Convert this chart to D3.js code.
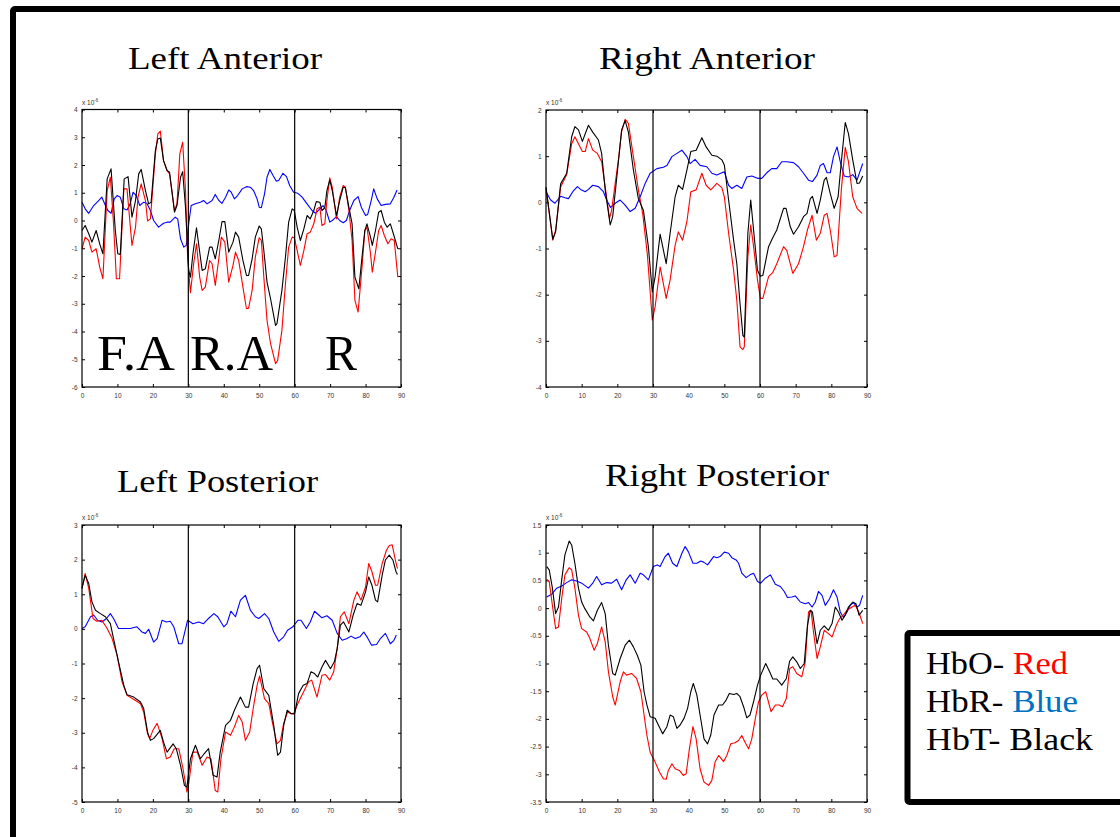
<!DOCTYPE html>
<html>
<head>
<meta charset="utf-8">
<script src="https://cdn.jsdelivr.net/npm/d3@7"></script>
<style>
  body { margin: 0; background: #fff; }
  svg { display: block; }
</style>
</head>
<body>
<svg id="chart" width="1120" height="837"></svg>
<script>
// time (s) vs concentration change (x 10^-6)

// Left Anterior
const laHbO = [[0,-1.02],[0.9,-0.6],[1.9,-0.72],[2.8,-1.14],[4,-1.02],[5,-1.68],[5.9,-2.1],[7.1,1.08],[8,1.56],[8.9,-0.12],[9.7,-2.1],[10.6,-2.1],[11.8,1.14],[12.7,1.14],[14.1,-0.9],[15.1,-0.24],[15.8,0.84],[16.7,1.32],[17.9,0.72],[18.5,-0.02],[19.3,0.06],[20.7,2.4],[21.4,3.12],[22.1,3.22],[23,2.16],[24,1.8],[24.7,1.68],[26.1,0.36],[26.8,0.6],[27.6,2.4],[28.4,2.82],[29.2,1.08],[29.8,-1.32],[30.6,-2.6],[31.5,-1.56],[32.3,-0.84],[33.2,-2.04],[33.9,-2.52],[34.8,-2.4],[36,-1.44],[36.7,-1.56],[37.6,-2.34],[38.6,-1.38],[39.3,-0.6],[40.3,-0.78],[41.4,-2.22],[42.6,-1.62],[43.3,-1.14],[44.2,-1.44],[45.4,-2.4],[46.4,-3.18],[47,-3.16],[48,-2.52],[48.9,-1.32],[50,-0.62],[50.6,-0.72],[51.3,-2.04],[52.2,-3.6],[53.2,-4.44],[54.6,-5.16],[55.2,-5.04],[56.4,-3.96],[57.4,-2.28],[58.3,-0.96],[59.3,-0.6],[59.9,-0.62],[60.7,-1.08],[61.6,-1.62],[62.6,-1.08],[63.5,-0.48],[64.4,-0.42],[65.4,-0.12],[66.3,0.42],[67.1,0.48],[67.7,-0.18],[68.5,-0.12],[69.1,0.72],[69.9,1.54],[70.6,1.2],[71.8,0.06],[72.7,0.84],[73.7,1.26],[74.3,1.2],[75.3,0.36],[76.2,-0.72],[77,-2.88],[77.9,-3.3],[79,-1.68],[79.8,-0.36],[80.4,-0.24],[81.4,-1.2],[81.9,-1.86],[82.8,-1.14],[83.7,-0.36],[84.4,-0.18],[85.3,-0.54],[86.3,-0.84],[87.2,-0.66],[88.1,-0.72],[89.1,-2.04]];
const laHbR = [[0,0.66],[0.9,0.42],[1.9,0.26],[3.3,0.54],[4.7,0.72],[5.6,0.84],[6.6,0.54],[7.3,0.36],[8.2,0.26],[9.1,0.78],[9.9,0.9],[10.8,0.84],[11.8,0.42],[12.7,0.38],[13.6,0.6],[14.4,1.02],[15.3,0.9],[16.3,0.54],[17.4,0.66],[18.3,0.62],[19.3,0.36],[20.2,0],[21.6,-0.24],[23,-0.1],[24,-0.06],[24.9,-0.06],[26.3,0.12],[27,0.06],[27.8,-0.66],[28.7,-0.96],[29.4,-0.9],[30.1,-0.12],[30.8,0.54],[32,0.6],[33.4,0.66],[34.3,0.72],[35.3,0.6],[36.7,0.72],[37.6,0.94],[38.6,0.72],[39.5,0.62],[40.5,0.84],[41.4,1.1],[42.1,1.02],[43,0.78],[43.9,0.9],[45.2,1.14],[46.4,1.22],[47.5,1.2],[48.4,1.08],[49.4,0.78],[50,0.48],[50.6,0.46],[51.5,0.96],[52.2,1.56],[53,1.84],[53.9,1.62],[54.8,1.42],[55.5,1.44],[56.7,1.7],[57.7,1.58],[58.6,1.26],[59.7,1.02],[60.9,0.98],[62.1,0.84],[63.5,0.6],[64.9,0.36],[65.9,0.26],[67.1,0.42],[68,0.54],[68.9,0.36],[69.9,-0.06],[70.8,0.02],[71.8,0.14],[72.7,0],[73.7,-0.08],[74.6,0],[75.5,0.36],[76.7,0.72],[77.9,0.86],[78.8,0.48],[80,0.18],[80.6,0.22],[81.6,0.72],[82.3,1.14],[83.3,0.78],[84.4,0.54],[85.6,0.58],[87,0.6],[88,0.84],[88.9,1.1]];
const laHbT = [[0,-0.36],[0.9,-0.18],[1.9,-0.48],[2.8,-0.78],[4,-0.36],[5,-0.84],[5.9,-1.2],[7.1,1.5],[8.2,1.86],[9.4,-0.36],[10.1,-1.2],[10.8,-1.22],[11.9,1.5],[13,1.58],[14.1,0.12],[15.1,0.72],[16,1.68],[16.7,1.84],[17.9,1.08],[18.8,0.6],[19.5,0.66],[20.7,2.52],[21.4,2.94],[22.1,2.97],[23,2.16],[24,1.8],[24.7,1.74],[26.1,0.3],[26.8,0.54],[27.8,1.56],[28.4,1.76],[29.2,0.48],[30.1,-1.8],[30.6,-2.04],[31.3,-1.2],[32.3,-0.26],[33.4,-1.32],[33.9,-1.8],[34.8,-1.74],[36,-0.96],[36.7,-0.96],[37.6,-1.38],[38.6,-0.72],[39.5,-0.04],[40.3,-0.04],[41.4,-1.14],[42.6,-0.78],[43.3,-0.42],[44.2,-0.6],[45.4,-1.44],[46.4,-1.98],[47,-1.98],[48,-1.38],[48.9,-0.6],[50,-0.2],[50.6,-0.3],[51.3,-1.08],[52.2,-2.22],[53.2,-2.82],[54.6,-3.78],[55,-3.72],[56.4,-2.52],[57.4,-1.32],[58.3,-0.06],[59.3,0.42],[59.9,0.36],[60.7,-0.24],[61.6,-0.72],[62.6,-0.3],[63.5,0.18],[64.4,0.06],[65.4,0.36],[66.1,0.68],[67.1,0.66],[67.7,0.36],[68.5,0.46],[69.1,1.08],[69.9,1.46],[70.6,1.08],[71.8,0.18],[72.7,0.72],[73.7,1.2],[74.3,1.18],[75.3,0.48],[76.2,-0.12],[77,-2.04],[78.1,-2.46],[79,-1.32],[79.8,-0.36],[80.4,-0.12],[81.4,-0.6],[81.9,-0.9],[82.8,-0.36],[83.7,0.3],[84.4,0.36],[85.3,-0.06],[86.1,-0.24],[87,-0.12],[88,-0.54],[89.1,-1.02]];

// Right Anterior
const raHbO = [[0,0.3],[1.9,-0.82],[2.7,-0.6],[4.1,0.33],[5.8,0.6],[7.2,1.27],[8.1,1.42],[9.1,1.27],[10.2,1.1],[11,1.1],[11.9,1.38],[13.1,1.13],[14.4,1.06],[15.6,0.88],[16.6,0.33],[17.8,-0.35],[18.4,-0.17],[20.3,0.92],[21.2,1.53],[22.2,1.8],[23.1,1.71],[24.5,0.99],[25.9,0.27],[27.1,-0.24],[28.4,-1.11],[29.8,-2.55],[30.6,-2.26],[32,-1.4],[33.7,-2.08],[34.8,-1.68],[36.2,-0.93],[37.1,-0.64],[38.3,-0.82],[39.5,-0.42],[40.6,0.23],[42.1,0.27],[43.7,0.63],[44.9,0.37],[46.2,0.27],[47.9,0.41],[49.3,0.32],[50,0.12],[51.2,-0.67],[52.6,-1.47],[53.5,-2.12],[54.4,-3.13],[55.2,-3.19],[55.6,-3.13],[56.6,-1.18],[57.4,-0.49],[58.2,-0.96],[59.3,-1.68],[60.1,-2.08],[60.8,-2.08],[62.4,-1.61],[63.5,-1.53],[64.7,-1.33],[66.6,-0.96],[67.5,-1.04],[69.2,-1.54],[70.8,-1.33],[72.2,-0.96],[73.3,-0.6],[74.6,-0.28],[75.8,-0.82],[76.9,-0.67],[78,-0.28],[78.8,-0.24],[79.7,-0.6],[80.8,-1.18],[81.6,-1.15],[82.8,0.27],[83.9,1.19],[84.8,0.88],[86,0.12],[87.2,-0.13],[88.6,-0.24]];
const raHbR = [[0,0.23],[1.3,0.05],[2.5,-0.02],[4.1,0.13],[5.3,0.1],[6.3,0.08],[7.5,0.23],[8.8,0.34],[9.7,0.28],[11,0.23],[11.9,0.28],[13.1,0.37],[14.7,0.34],[16.1,0.23],[17,0.05],[18.1,-0.11],[19.4,-0.02],[20.8,0.05],[22.2,-0.06],[23.6,-0.2],[25,-0.13],[26.4,0.12],[27.8,0.41],[29.2,0.63],[31.1,0.73],[32.9,0.76],[33.9,0.8],[35.3,0.99],[36.7,1.06],[38.1,1.13],[39.5,0.99],[40.4,0.84],[41.8,0.93],[43.2,0.8],[45.1,0.77],[46.5,0.63],[47.9,0.59],[49.3,0.64],[50,0.66],[51.2,0.37],[52.1,0.3],[53.5,0.37],[54.9,0.3],[56.3,0.55],[57.7,0.57],[59.3,0.52],[60.5,0.52],[61.9,0.64],[63.3,0.73],[64.7,0.73],[66.1,0.88],[67.5,0.88],[69.4,0.86],[70.8,0.77],[72.2,0.63],[73.6,0.48],[74.7,0.45],[76,0.59],[76.9,0.8],[77.8,0.84],[78.8,0.64],[79.7,0.64],[80.6,0.99],[81.6,1.2],[82.5,0.88],[83.6,0.57],[84.8,0.55],[86,0.6],[87.2,0.48],[88.8,0.84]];
const raHbT = [[0,0.33],[1.9,-0.8],[2.7,-0.64],[4.1,0.4],[5.8,0.63],[7.2,1.42],[8.1,1.64],[9.1,1.57],[10.2,1.32],[11.9,1.67],[13.1,1.52],[14.7,1.35],[15.6,1.06],[16.6,0.27],[18,-0.49],[18.7,-0.31],[20.3,0.88],[21.2,1.57],[22.2,1.77],[23.1,1.52],[24.5,0.7],[25.9,0.08],[27.3,-0.17],[28.7,-0.96],[29.8,-1.94],[30.6,-1.61],[32,-0.69],[33.7,-1.33],[34.8,-0.67],[36.2,0.12],[37.1,0.37],[38.3,0.28],[39.5,0.7],[40.6,1.1],[42.1,1.13],[43.7,1.4],[44.9,1.2],[46.5,1.02],[47.9,1],[49.3,0.92],[50,0.81],[51.2,0.05],[52.6,-0.82],[53.5,-1.33],[54.4,-2.19],[55.2,-2.88],[55.6,-2.92],[56.6,-0.67],[57.4,0.05],[58.2,-0.6],[59.3,-1.47],[60.1,-1.6],[60.8,-1.58],[62.4,-0.96],[63.5,-0.78],[64.7,-0.6],[66.6,-0.13],[67.3,-0.13],[68.5,-0.53],[69.4,-0.69],[70.8,-0.53],[72.2,-0.31],[73.2,-0.24],[74.1,0.08],[74.7,0.13],[76,-0.24],[76.9,0.05],[78,0.48],[78.6,0.54],[79.7,0.19],[80.8,-0.13],[81.9,0.12],[82.8,0.88],[83.9,1.73],[84.8,1.49],[86,0.92],[87.2,0.41],[87.9,0.42],[88.8,0.57]];

// Left Posterior
const lpHbO = [[0,1.17],[0.9,1.6],[1.9,1.17],[3.1,0.3],[4.2,0.22],[5.6,0.25],[7.1,0.01],[8.5,-0.28],[9.9,-0.76],[11.3,-1.53],[12.7,-1.92],[15,-2.06],[16.5,-2.16],[17.4,-2.4],[18.5,-3.03],[19.1,-3.17],[20,-2.93],[21.2,-2.73],[22.6,-3.17],[23.8,-3.75],[24.9,-3.7],[26,-3.46],[27.3,-3.46],[28.5,-4.04],[29.6,-4.71],[30.1,-4.47],[31.3,-3.56],[32.5,-3.56],[33.9,-3.94],[35.3,-3.7],[36.4,-3.75],[37.6,-4.67],[38.3,-4.71],[39.2,-3.75],[40.5,-2.98],[41.9,-3.07],[43,-2.83],[44.2,-2.5],[45.2,-2.69],[46.1,-3.22],[47.3,-2.98],[48.3,-2.3],[49.4,-1.63],[50.1,-1.36],[51.5,-2.02],[52.7,-2.16],[53.6,-2.64],[55,-3.32],[56,-3.22],[56.9,-2.73],[58,-2.4],[59,-2.45],[59.7,-2.45],[61.1,-2.11],[62.5,-1.82],[63.9,-1.53],[64.8,-1.48],[66.3,-1.97],[67.7,-1.34],[68.7,-1.32],[69.9,-1.48],[71,-1.24],[72,-0.57],[72.9,0.35],[74,0.49],[75.3,0.15],[76.7,0.83],[77.6,1.07],[78.7,0.83],[80,1.21],[80.9,1.89],[81.8,1.65],[82.8,1.26],[83.4,1.26],[84.7,1.89],[85.9,2.27],[86.7,2.41],[87.5,2.43],[88.4,1.99],[89,1.74]];
const lpHbR = [[0,0.01],[0.9,0.06],[2.4,0.35],[3.3,0.4],[4.4,0.25],[5.6,0.2],[6.9,0.3],[8,0.44],[8.9,0.3],[10.3,0.01],[11.8,0.01],[13.6,0.01],[15.5,0.06],[16.9,-0.09],[17.9,-0.13],[18.8,-0.01],[20.2,-0.38],[21.2,-0.28],[22.6,0.25],[23.8,0.2],[24.9,0.22],[25.9,0.06],[27.3,-0.43],[28.2,-0.43],[29.8,0.25],[31.3,0.15],[32.9,0.2],[34.3,0.15],[35.7,0.3],[37.2,0.44],[38.3,0.35],[40,0.06],[40.9,0.15],[42,0.51],[43.3,0.35],[44.7,0.83],[46.1,0.97],[47.5,0.54],[48.9,0.35],[49.9,0.3],[51.5,0.44],[52.7,0.3],[54.1,-0.09],[55.5,-0.36],[56.9,-0.23],[58,-0.04],[59.5,0.06],[60.9,0.25],[61.8,0.25],[63.3,0.01],[64.4,0.2],[65.6,0.51],[66.8,0.4],[67.7,0.32],[69.1,0.38],[70.6,0.25],[72,-0.13],[73.4,-0.33],[74.8,-0.28],[75.9,-0.21],[77.1,-0.28],[78.4,-0.23],[79.5,-0.09],[80.4,-0.23],[81.7,-0.47],[83.1,-0.45],[84.2,-0.28],[85.6,-0.13],[87,-0.43],[88,-0.33],[88.7,-0.18]];
const lpHbT = [[0,1.17],[0.9,1.55],[1.9,1.31],[2.8,0.78],[3.8,0.54],[5.2,0.44],[6.6,0.35],[8,0.15],[8.9,-0.28],[10.3,-0.95],[11.8,-1.63],[12.7,-1.9],[14.6,-1.97],[16.5,-2.11],[17.4,-2.3],[18.5,-2.98],[19.3,-3.22],[20.2,-3.17],[22.1,-2.93],[23,-3.27],[24,-3.56],[25.7,-3.32],[26.6,-3.46],[27.8,-3.94],[28.9,-4.52],[29.6,-4.57],[30.6,-3.75],[32,-3.36],[33.4,-3.75],[34.5,-3.6],[35.7,-3.46],[37,-4.23],[38.1,-4.28],[39,-3.56],[40.5,-2.79],[41.9,-2.64],[43,-2.35],[44.7,-1.97],[46.1,-2.26],[47,-2.26],[48.3,-1.58],[49.4,-1.15],[50.1,-1.05],[51.3,-1.73],[52.7,-1.92],[54.1,-2.79],[55.2,-3.65],[56,-3.56],[56.9,-2.79],[57.9,-2.35],[59,-2.45],[60,-2.45],[61.1,-1.87],[62.4,-1.63],[63.5,-1.58],[64.6,-1.24],[65.6,-1.29],[66.5,-1.39],[67.7,-1.1],[68.7,-0.91],[70.1,-1.15],[71.2,-0.95],[72,-0.57],[72.9,0.11],[73.8,0.2],[75.3,-0.09],[76.5,0.4],[77.6,0.73],[78.7,0.68],[80,1.07],[80.9,1.5],[81.8,1.26],[82.8,0.83],[83.4,0.78],[84.7,1.55],[85.6,1.99],[86.7,2.13],[87.7,1.99],[88.6,1.65],[89,1.57]];

// Right Posterior
const rpHbO = [[0.2,0.52],[0.9,0.48],[1.8,0.05],[2.7,-0.37],[3.5,-0.34],[4.4,0.17],[5.3,0.6],[6.5,0.73],[7.2,0.69],[8.1,0.36],[9.1,-0.13],[10,-0.37],[11.4,-0.43],[12.3,-0.55],[13.5,-0.76],[14.4,-0.64],[15.6,-0.34],[16.6,-0.61],[17.5,-1.15],[18.7,-1.6],[19.4,-1.75],[20.8,-1.33],[21.7,-1.15],[22.6,-1.21],[24,-1.18],[25.4,-1.27],[26.6,-1.51],[27.5,-1.93],[28.3,-2.3],[29.2,-2.6],[30.6,-2.78],[31.8,-2.96],[32.9,-3.08],[33.7,-3.09],[34.3,-2.93],[35.3,-2.81],[36.2,-2.9],[37.4,-2.93],[38.5,-3.02],[39.3,-2.99],[40.2,-2.54],[41.2,-2.14],[42.1,-2.36],[43.2,-2.9],[44.3,-3.14],[45.6,-3.2],[46.5,-3.11],[47.4,-2.78],[48.4,-2.66],[49.8,-2.77],[50.7,-2.66],[51.8,-2.45],[53,-2.43],[54,-2.39],[54.9,-2.3],[55.8,-2.42],[56.8,-2.54],[57.7,-2.36],[58.7,-1.99],[59.6,-1.69],[60.5,-1.57],[61.6,-1.51],[63.1,-1.87],[64.3,-1.75],[65.4,-1.75],[66.3,-1.78],[67.4,-1.63],[68.3,-1.09],[69.2,-1.06],[70.3,-1.18],[71.7,-1.24],[72.7,-0.97],[73.6,-0.07],[74.3,-0.04],[75,-0.43],[76,-0.91],[76.9,-0.7],[78,-0.4],[79.2,-0.46],[80.2,-0.52],[81.4,-0.31],[82.3,-0.19],[83.3,-0.13],[84.4,-0.04],[85.8,0.02],[86.7,0.05],[87.7,-0.07],[88.8,-0.28]];
const rpHbR = [[0.2,0.2],[1.6,0.25],[3,0.36],[4.4,0.4],[5.8,0.46],[7.2,0.51],[8.6,0.49],[10,0.45],[11.9,0.36],[13.1,0.45],[14.2,0.57],[15.6,0.42],[17,0.46],[18.4,0.45],[19.8,0.52],[21.2,0.33],[22.5,0.51],[23.6,0.6],[25,0.45],[26.4,0.63],[27.3,0.6],[28.7,0.51],[30.1,0.75],[31.2,0.78],[32,0.75],[33.4,0.93],[34.3,0.99],[35.5,0.81],[36.7,0.75],[38.1,0.99],[39,1.11],[39.9,1.02],[41.2,0.81],[42.3,0.81],[43.4,0.85],[44.2,0.83],[45.3,0.78],[47,0.93],[47.9,0.91],[48.8,0.93],[50,1.01],[51.2,0.99],[52.1,0.91],[53.3,0.87],[54,0.81],[54.9,0.63],[56.1,0.55],[57.2,0.6],[58.2,0.63],[59.3,0.48],[60.2,0.45],[61.5,0.54],[62.9,0.6],[64.3,0.43],[65.7,0.39],[66.8,0.3],[67.7,0.19],[68.9,0.2],[69.9,0.22],[71.3,0.11],[72.7,0.08],[73.6,0.1],[74.6,0.02],[75.5,0.11],[76.4,0.3],[77.4,0.23],[78.3,0.05],[79.5,0.17],[80.6,0.33],[81.6,0.2],[82.5,-0.07],[83.4,-0.17],[84.4,-0.07],[85.3,0.05],[86.2,0.1],[87.2,0.02],[87.9,0.05],[88.8,0.23]];
const rpHbT = [[0.2,0.75],[0.9,0.69],[1.8,0.36],[2.7,-0.1],[3.5,0.02],[4.4,0.51],[5.3,0.96],[6.5,1.21],[7.2,1.14],[8.1,0.81],[9.1,0.36],[10,0.11],[10.9,-0.01],[12.3,-0.16],[13.3,-0.23],[14.4,-0.04],[15.6,0.1],[16.6,-0.1],[17.5,-0.67],[18.7,-1.18],[19.4,-1.21],[20.8,-0.91],[22.2,-0.67],[23.4,-0.58],[24.5,-0.7],[25.6,-0.85],[26.6,-1.03],[27.5,-1.51],[28.3,-1.75],[29.2,-1.96],[30.6,-1.99],[31.5,-2.11],[32.7,-2.27],[33.9,-2.14],[34.8,-1.93],[35.7,-1.96],[36.7,-2.17],[37.6,-2.11],[38.7,-1.99],[39.7,-1.81],[40.6,-1.51],[41.3,-1.36],[42.3,-1.57],[43.2,-1.93],[44.3,-2.36],[45.3,-2.45],[46.2,-2.29],[47.1,-1.93],[48.4,-1.75],[49.5,-1.75],[50.5,-1.66],[51.4,-1.54],[52.6,-1.56],[53.5,-1.54],[54.4,-1.6],[55.4,-1.78],[56.3,-1.98],[57.2,-1.93],[58.2,-1.69],[59.3,-1.39],[60.2,-1.21],[61.6,-1],[62.7,-1.15],[63.6,-1.28],[64.7,-1.28],[66.1,-1.39],[67.4,-1.27],[68.3,-0.96],[69.2,-0.88],[70.3,-0.97],[71.3,-1.09],[72.4,-1],[73.3,-0.31],[74.1,-0.04],[74.7,-0.07],[76,-0.64],[76.9,-0.4],[78,-0.32],[79.2,-0.4],[80.2,-0.28],[81.1,0.02],[82,-0.07],[83,-0.22],[83.9,-0.13],[84.8,0.02],[86,0.11],[86.9,0.08],[87.8,-0.13],[88.8,-0.04]];

const xTicks = [0, 10, 20, 30, 40, 50, 60, 70, 80, 90];
const markers = [30, 60];
const laTicks = [-6, -5, -4, -3, -2, -1, 0, 1, 2, 3, 4];
const raTicks = [-4, -3, -2, -1, 0, 1, 2];
const lpTicks = [-5, -4, -3, -2, -1, 0, 1, 2, 3];
const rpTicks = [-3.5, -3, -2.5, -2, -1.5, -1, -0.5, 0, 0.5, 1, 1.5];

const titles = ["Left Anterior", "Right Anterior", "Left Posterior", "Right Posterior"];
const phaseLabels = ["F.A", "R.A", "R"];
const legendRows = [["HbO- ", "Red", "#ff0000"], ["HbR- ", "Blue", "#0070c0"], ["HbT- ", "Black", "#000000"]];

const svg = d3.select("#chart");

// outer frame (only top and left edges visible)
svg.append("rect")
    .attr("x", 13).attr("y", 9)
    .attr("width", 1200).attr("height", 900)
    .attr("rx", 2)
    .attr("fill", "none")
    .attr("stroke", "#000")
    .attr("stroke-width", 6);

const panels = [
    {title: titles[0], tx: 128, tw: 194, ty: 69, left: 82, top: 109.5, w: 319, h: 277.5, ticks: laTicks, hbo: laHbO, hbr: laHbR, hbt: laHbT},
    {title: titles[1], tx: 599, tw: 216, ty: 69, left: 546, top: 110, w: 321, h: 277, ticks: raTicks, hbo: raHbO, hbr: raHbR, hbt: raHbT},
    {title: titles[2], tx: 117, tw: 201, ty: 492, left: 82, top: 525, w: 319, h: 277, ticks: lpTicks, hbo: lpHbO, hbr: lpHbR, hbt: lpHbT},
    {title: titles[3], tx: 605, tw: 224, ty: 486, left: 546, top: 525, w: 321, h: 277, ticks: rpTicks, hbo: rpHbO, hbr: rpHbR, hbt: rpHbT}
];

panels.forEach((p, i) => {
    svg.append("text")
        .attr("x", p.tx).attr("y", p.ty)
        .attr("textLength", p.tw)
        .attr("lengthAdjust", "spacingAndGlyphs")
        .attr("font-family", "'Liberation Serif', 'DejaVu Serif', serif")
        .attr("font-size", 32)
        .attr("fill", "#000")
        .text(p.title);

    const x = d3.scaleLinear().domain([0, 90]).range([p.left, p.left + p.w]);
    const y = d3.scaleLinear().domain(d3.extent(p.ticks)).range([p.top + p.h, p.top]);
    const g = svg.append("g");

    const fmt = d => String(d);
    const tickFont = g => g.selectAll("text")
        .attr("font-family", "'Liberation Sans', Arial, sans-serif")
        .attr("font-size", 6.5)
        .attr("fill", "#333");

    // bottom / left axes with inward ticks
    g.append("g")
        .attr("transform", `translate(0,${p.top + p.h})`)
        .call(d3.axisBottom(x).tickValues(xTicks).tickSize(-3).tickPadding(6).tickFormat(fmt))
        .call(a => a.select(".domain").remove())
        .call(tickFont);
    g.append("g")
        .attr("transform", `translate(${p.left},0)`)
        .call(d3.axisLeft(y).tickValues(p.ticks).tickSize(-3).tickPadding(4.5).tickFormat(fmt))
        .call(a => a.select(".domain").remove())
        .call(tickFont);
    // top / right mirrored ticks, no labels
    g.append("g")
        .attr("transform", `translate(0,${p.top})`)
        .call(d3.axisTop(x).tickValues(xTicks).tickSize(-3).tickFormat(""))
        .call(a => a.select(".domain").remove());
    g.append("g")
        .attr("transform", `translate(${p.left + p.w},0)`)
        .call(d3.axisRight(y).tickValues(p.ticks).tickSize(-3).tickFormat(""))
        .call(a => a.select(".domain").remove());
    g.selectAll(".tick line").attr("stroke", "#000").attr("stroke-width", 1);

    // data lines
    const line = d3.line().x(d => x(d[0])).y(d => y(d[1]));
    [[p.hbr, "#0000ff"], [p.hbo, "#ff0000"], [p.hbt, "#000000"]].forEach(([data, color]) => {
        g.append("path")
            .datum(data)
            .attr("fill", "none")
            .attr("stroke", color)
            .attr("stroke-width", 1.1)
            .attr("stroke-linejoin", "round")
            .attr("d", line);
    });

    // phase separators
    g.selectAll(".marker")
        .data(markers)
        .enter()
        .append("line")
        .attr("x1", d => x(d)).attr("x2", d => x(d))
        .attr("y1", p.top).attr("y2", p.top + p.h)
        .attr("stroke", "#000")
        .attr("stroke-width", 1.2);

    // axes box
    g.append("rect")
        .attr("x", p.left).attr("y", p.top)
        .attr("width", p.w).attr("height", p.h)
        .attr("fill", "none")
        .attr("stroke", "#000")
        .attr("stroke-width", 1.2);

    // exponent label
    const ex = g.append("text")
        .attr("x", p.left).attr("y", p.top - 5)
        .attr("font-family", "'Liberation Sans', Arial, sans-serif")
        .attr("font-size", 6.5)
        .attr("fill", "#333");
    ex.append("tspan").text("x 10");
    ex.append("tspan").attr("dy", -3).attr("font-size", 4.5).text("-6");

    if (i === 0) {
        const phaseX = [97, 190, 325];
        const phaseW = [78, 83, 32];
        g.selectAll(".phase")
            .data(phaseLabels)
            .enter()
            .append("text")
            .attr("x", (d, k) => phaseX[k])
            .attr("y", 370)
            .attr("textLength", (d, k) => phaseW[k])
            .attr("lengthAdjust", "spacingAndGlyphs")
            .attr("font-family", "'Liberation Serif', 'DejaVu Serif', serif")
            .attr("font-size", 50)
            .attr("fill", "#000")
            .text(d => d);
    }
});

// legend box
svg.append("rect")
    .attr("x", 907.5).attr("y", 633)
    .attr("width", 260).attr("height", 169)
    .attr("rx", 2)
    .attr("fill", "#fff")
    .attr("stroke", "#000")
    .attr("stroke-width", 6);

const legendY = [674, 712, 750];
const legendW = [142, 152, 167];
legendRows.forEach((r, k) => {
    const t = svg.append("text")
        .attr("x", 926).attr("y", legendY[k])
        .attr("textLength", legendW[k])
        .attr("lengthAdjust", "spacingAndGlyphs")
        .attr("font-family", "'Liberation Serif', 'DejaVu Serif', serif")
        .attr("font-size", 32)
        .attr("fill", "#000");
    t.append("tspan").text(r[0]);
    t.append("tspan").attr("fill", r[2]).text(r[1]);
});
</script>
</body>
</html>
